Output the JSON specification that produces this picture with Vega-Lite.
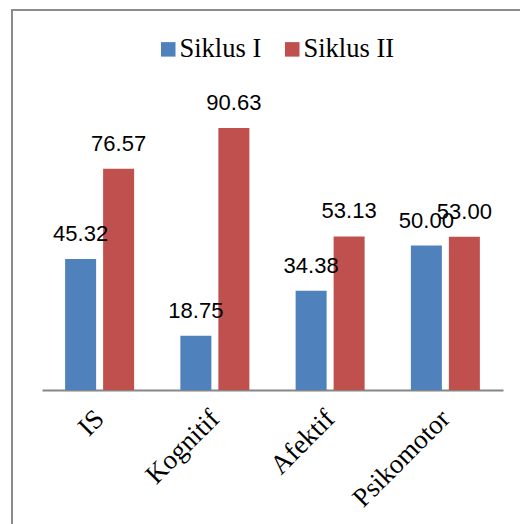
{
  "$schema": "https://vega.github.io/schema/vega-lite/v6.json",
  "autosize": "none",
  "padding": {"left": 12, "top": 10, "right": 0, "bottom": 0},
  "width": 510,
  "height": 516,
  "background": "white",
  "config": {"view": {"stroke": "#8c8c8c", "strokeWidth": 2}},
  "data": {
    "values": [
      {"kategori": "IS", "siklus": "Siklus I", "nilai": 45.32},
      {"kategori": "IS", "siklus": "Siklus II", "nilai": 76.57},
      {"kategori": "Kognitif", "siklus": "Siklus I", "nilai": 18.75},
      {"kategori": "Kognitif", "siklus": "Siklus II", "nilai": 90.63},
      {"kategori": "Afektif", "siklus": "Siklus I", "nilai": 34.38},
      {"kategori": "Afektif", "siklus": "Siklus II", "nilai": 53.13},
      {"kategori": "Psikomotor", "siklus": "Siklus I", "nilai": 50.00},
      {"kategori": "Psikomotor", "siklus": "Siklus II", "nilai": 53.00}
    ]
  },
  "encoding": {
    "x": {
      "field": "kategori", "type": "nominal",
      "sort": ["IS", "Kognitif", "Afektif", "Psikomotor"],
      "scale": {"range": [30, 491], "paddingInner": 0, "paddingOuter": 0},
      "axis": {
        "orient": "bottom", "offset": -136, "title": null,
        "domainColor": "#868686", "domainWidth": 2, "ticks": false, "grid": false,
        "labelAngle": -45, "labelFont": "Liberation Serif", "labelFontSize": 27,
        "labelColor": "black", "labelPadding": 30, "labelOffset": 6, "labelBaseline": "alphabetic"
      }
    },
    "xOffset": {
      "field": "siklus", "type": "nominal",
      "scale": {"paddingInner": 0.184, "paddingOuter": 0.6086}
    },
    "y": {
      "field": "nilai", "type": "quantitative",
      "scale": {"domain": [0, 100], "range": [380, 91], "nice": false, "zero": true},
      "axis": null
    }
  },
  "layer": [
    {
      "mark": {"type": "bar"},
      "encoding": {
        "color": {
          "field": "siklus", "type": "nominal",
          "scale": {"domain": ["Siklus I", "Siklus II"], "range": ["#4f81bd", "#c0504d"]},
          "legend": {
            "title": null, "orient": "none", "direction": "horizontal",
            "legendX": 143, "legendY": 26,
            "symbolType": "square", "symbolSize": 210, "symbolStrokeWidth": 0,
            "labelFont": "Liberation Serif", "labelFontSize": 26.5, "labelColor": "black",
            "labelOffset": -2, "columnPadding": 17
          }
        }
      }
    },
    {
      "mark": {"type": "text", "font": "Liberation Sans", "fontSize": 22, "color": "black", "baseline": "alphabetic", "dy": -18},
      "encoding": {
        "text": {"field": "nilai", "type": "quantitative", "format": ".2f"}
      }
    }
  ]
}
